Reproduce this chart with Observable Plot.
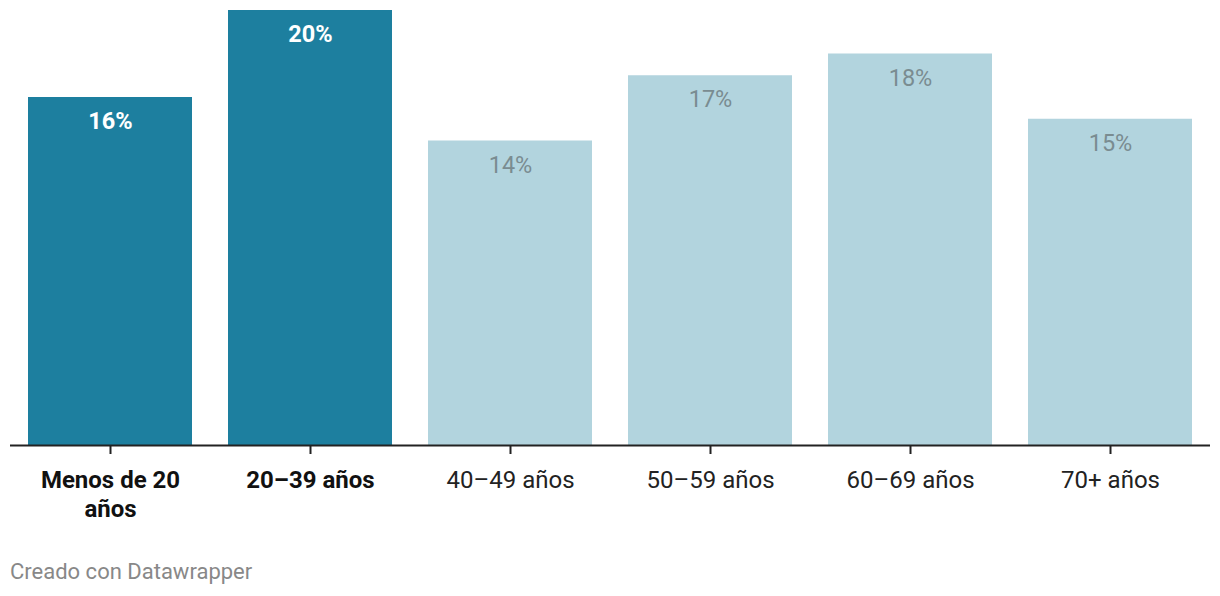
<!DOCTYPE html>
<html>
<head>
<meta charset="utf-8">
<script src="https://cdn.jsdelivr.net/npm/d3@7"></script>
<script src="https://cdn.jsdelivr.net/npm/@observablehq/plot@0.6"></script>
<style>
  html, body { margin: 0; padding: 0; background: #fff; }
  body { width: 1220px; font-family: Roboto, "Noto Sans", sans-serif; }
  #footer { margin: 29px 0 0 10px; font-size: 22px; line-height: 26px; color: #888; }
  g[aria-label="dark-values"] text { text-shadow: 0 0 3px rgba(0,0,0,0.55); }
</style>
</head>
<body>
<div id="chart"></div>
<div id="footer">Creado con Datawrapper</div>
<script>
const categories = ["Menos de 20 años", "20–39 años", "40–49 años", "50–59 años", "60–69 años", "70+ años"];
const values = [16, 20, 14, 17, 18, 15];
const tickLabels = ["Menos de 20\naños", "20–39 años", "40–49 años", "50–59 años", "60–69 años", "70+ años"];
const highlighted = ["Menos de 20 años", "20–39 años"];

const data = categories.map((c, i) => ({cat: c, value: values[i], label: tickLabels[i], hi: highlighted.includes(c)}));
const dark = "#1d7f9f", light = "#b2d4de";

const chart = Plot.plot({
  width: 1220,
  height: 530,
  marginTop: 10,
  marginBottom: 85,
  marginLeft: 10,
  marginRight: 10,
  style: {fontFamily: "Roboto, sans-serif", background: "#fff"},
  x: {domain: categories, paddingInner: 0.18, paddingOuter: 0.09, label: null},
  y: {domain: [0, 20], axis: null},
  marks: [
    Plot.barY(data, {x: "cat", y: "value", fill: d => d.hi ? dark : light}),
    Plot.ruleY([0], {stroke: "#222", strokeWidth: 2}),
    Plot.axisX({tickSize: 9, tickFormat: () => "", stroke: "#222", strokeWidth: 2, label: null}),
    Plot.text(data.filter(d => d.hi), {x: "cat", y: "value", text: d => d.value + "%", dy: 24, fill: "#fff", fontWeight: "bold", fontSize: 23.5, ariaLabel: "dark-values"}),
    Plot.text(data.filter(d => !d.hi), {x: "cat", y: "value", text: d => d.value + "%", dy: 24, fill: "#7a8c91", fontSize: 23.5}),
    Plot.text(data.filter(d => d.hi), {x: "cat", frameAnchor: "bottom", text: "label", dy: 23, fill: "#111", fontWeight: "bold", fontSize: 24, lineHeight: 1.17, lineAnchor: "top"}),
    Plot.text(data.filter(d => !d.hi), {x: "cat", frameAnchor: "bottom", text: "label", dy: 23, fill: "#222", fontSize: 24, lineHeight: 1.17, lineAnchor: "top"})
  ]
});
document.getElementById("chart").appendChild(chart);
</script>
</body>
</html>
